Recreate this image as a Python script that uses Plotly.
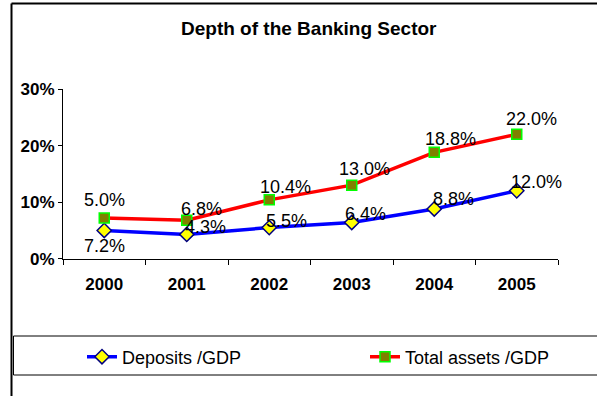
import plotly.graph_objects as go

# Banking sector depth, share of GDP
years = ["2000", "2001", "2002", "2003", "2004", "2005"]
deposits_gdp = [0.050, 0.043, 0.055, 0.064, 0.088, 0.120]
assets_gdp = [0.072, 0.068, 0.104, 0.130, 0.188, 0.220]
y_ticks = [0.0, 0.10, 0.20, 0.30]

W, H = 597, 396
FONT = "Arial, Liberation Sans, sans-serif"


def px(x):
    return x / W


def py(y):
    return 1 - y / H


fig = go.Figure()

fig.add_trace(go.Scatter(
    x=years, y=deposits_gdp, mode="lines+markers", name="Deposits /GDP",
    line=dict(color="#0000FF", width=3.5),
    marker=dict(symbol="diamond", size=11, color="#FFFF00",
                line=dict(color="#000080", width=1.5)),
))
fig.add_trace(go.Scatter(
    x=years, y=assets_gdp, mode="lines+markers", name="Total assets /GDP",
    line=dict(color="#FF0000", width=3.5),
    marker=dict(symbol="square", size=10, color="#808000",
                line=dict(color="#00FF00", width=1.5)),
))

# value labels (pixel offsets from each point); x given as category index
dep_offsets = [(0, 0), (19, 7), (17, 7), (14, 9), (19, 10), (20, 9)]
ast_offsets = [(0, 0), (15, 11), (16, 13), (13, 16), (16, 13), (15, 15)]
annotations = []
for i in range(len(years)):
    if i == 0:
        # first-year labels sit above the upper line and below the lower line
        annotations.append(dict(x=i, y=assets_gdp[i], text=f"{deposits_gdp[i]*100:.1f}%",
                                xshift=0, yshift=18))
        annotations.append(dict(x=i, y=deposits_gdp[i], text=f"{assets_gdp[i]*100:.1f}%",
                                xshift=0, yshift=-16))
        continue
    dx, dy = dep_offsets[i]
    annotations.append(dict(x=i, y=deposits_gdp[i], text=f"{deposits_gdp[i]*100:.1f}%",
                            xshift=dx, yshift=dy))
    dx, dy = ast_offsets[i]
    annotations.append(dict(x=i, y=assets_gdp[i], text=f"{assets_gdp[i]*100:.1f}%",
                            xshift=dx, yshift=dy))
for a in annotations:
    a.update(showarrow=False, xanchor="center", yanchor="middle", xref="x", yref="y",
             font=dict(family=FONT, size=18, color="black"))

annotations.append(dict(
    x=px(309), y=py(29), xref="paper", yref="paper", showarrow=False,
    text="<b>Depth of the Banking Sector</b>", xanchor="center", yanchor="middle",
    font=dict(family=FONT, size=19, color="black"),
))

shapes = [
    # chart frame
    dict(type="line", xref="paper", yref="paper", x0=px(11.5), x1=px(600), y0=py(3.5), y1=py(3.5),
         line=dict(color="black", width=2)),
    dict(type="line", xref="paper", yref="paper", x0=px(11.5), x1=px(11.5), y0=py(3.5), y1=py(400),
         line=dict(color="black", width=2)),
    # legend box
    dict(type="rect", xref="paper", yref="paper", x0=px(13.5), x1=px(605), y0=py(375), y1=py(336),
         line=dict(color="black", width=1)),
]

fig.update_layout(
    width=W, height=H,
    margin=dict(l=0, r=0, t=0, b=0, pad=0, autoexpand=False),
    paper_bgcolor="white", plot_bgcolor="white",
    font=dict(family=FONT, color="black"),
    annotations=annotations, shapes=shapes,
    showlegend=True,
    legend=dict(orientation="h", x=px(82), y=py(357), xanchor="left", yanchor="middle",
                font=dict(family=FONT, size=18, color="black"),
                entrywidth=238, entrywidthmode="pixels",
                bgcolor="rgba(0,0,0,0)", borderwidth=0),
    xaxis=dict(
        domain=[px(63), px(558)], type="category", range=[-0.5, 5.5],
        showline=True, linecolor="black", linewidth=1, automargin=False,
        ticks="outside", ticklen=5, tickcolor="black", tickson="boundaries",
        showgrid=False, zeroline=False, ticklabelstandoff=10,
        tickfont=dict(family=FONT, size=17, color="black", weight="bold"),
    ),
    yaxis=dict(
        domain=[py(258.7), py(89)], range=[0, 0.30],
        tickvals=y_ticks, tickformat=".0%", automargin=False,
        showline=True, linecolor="black", linewidth=1,
        ticks="outside", ticklen=4, tickcolor="black",
        showgrid=False, zeroline=False,
        tickfont=dict(family=FONT, size=17, color="black", weight="bold"),
    ),
)

fig.write_html("out.html")
